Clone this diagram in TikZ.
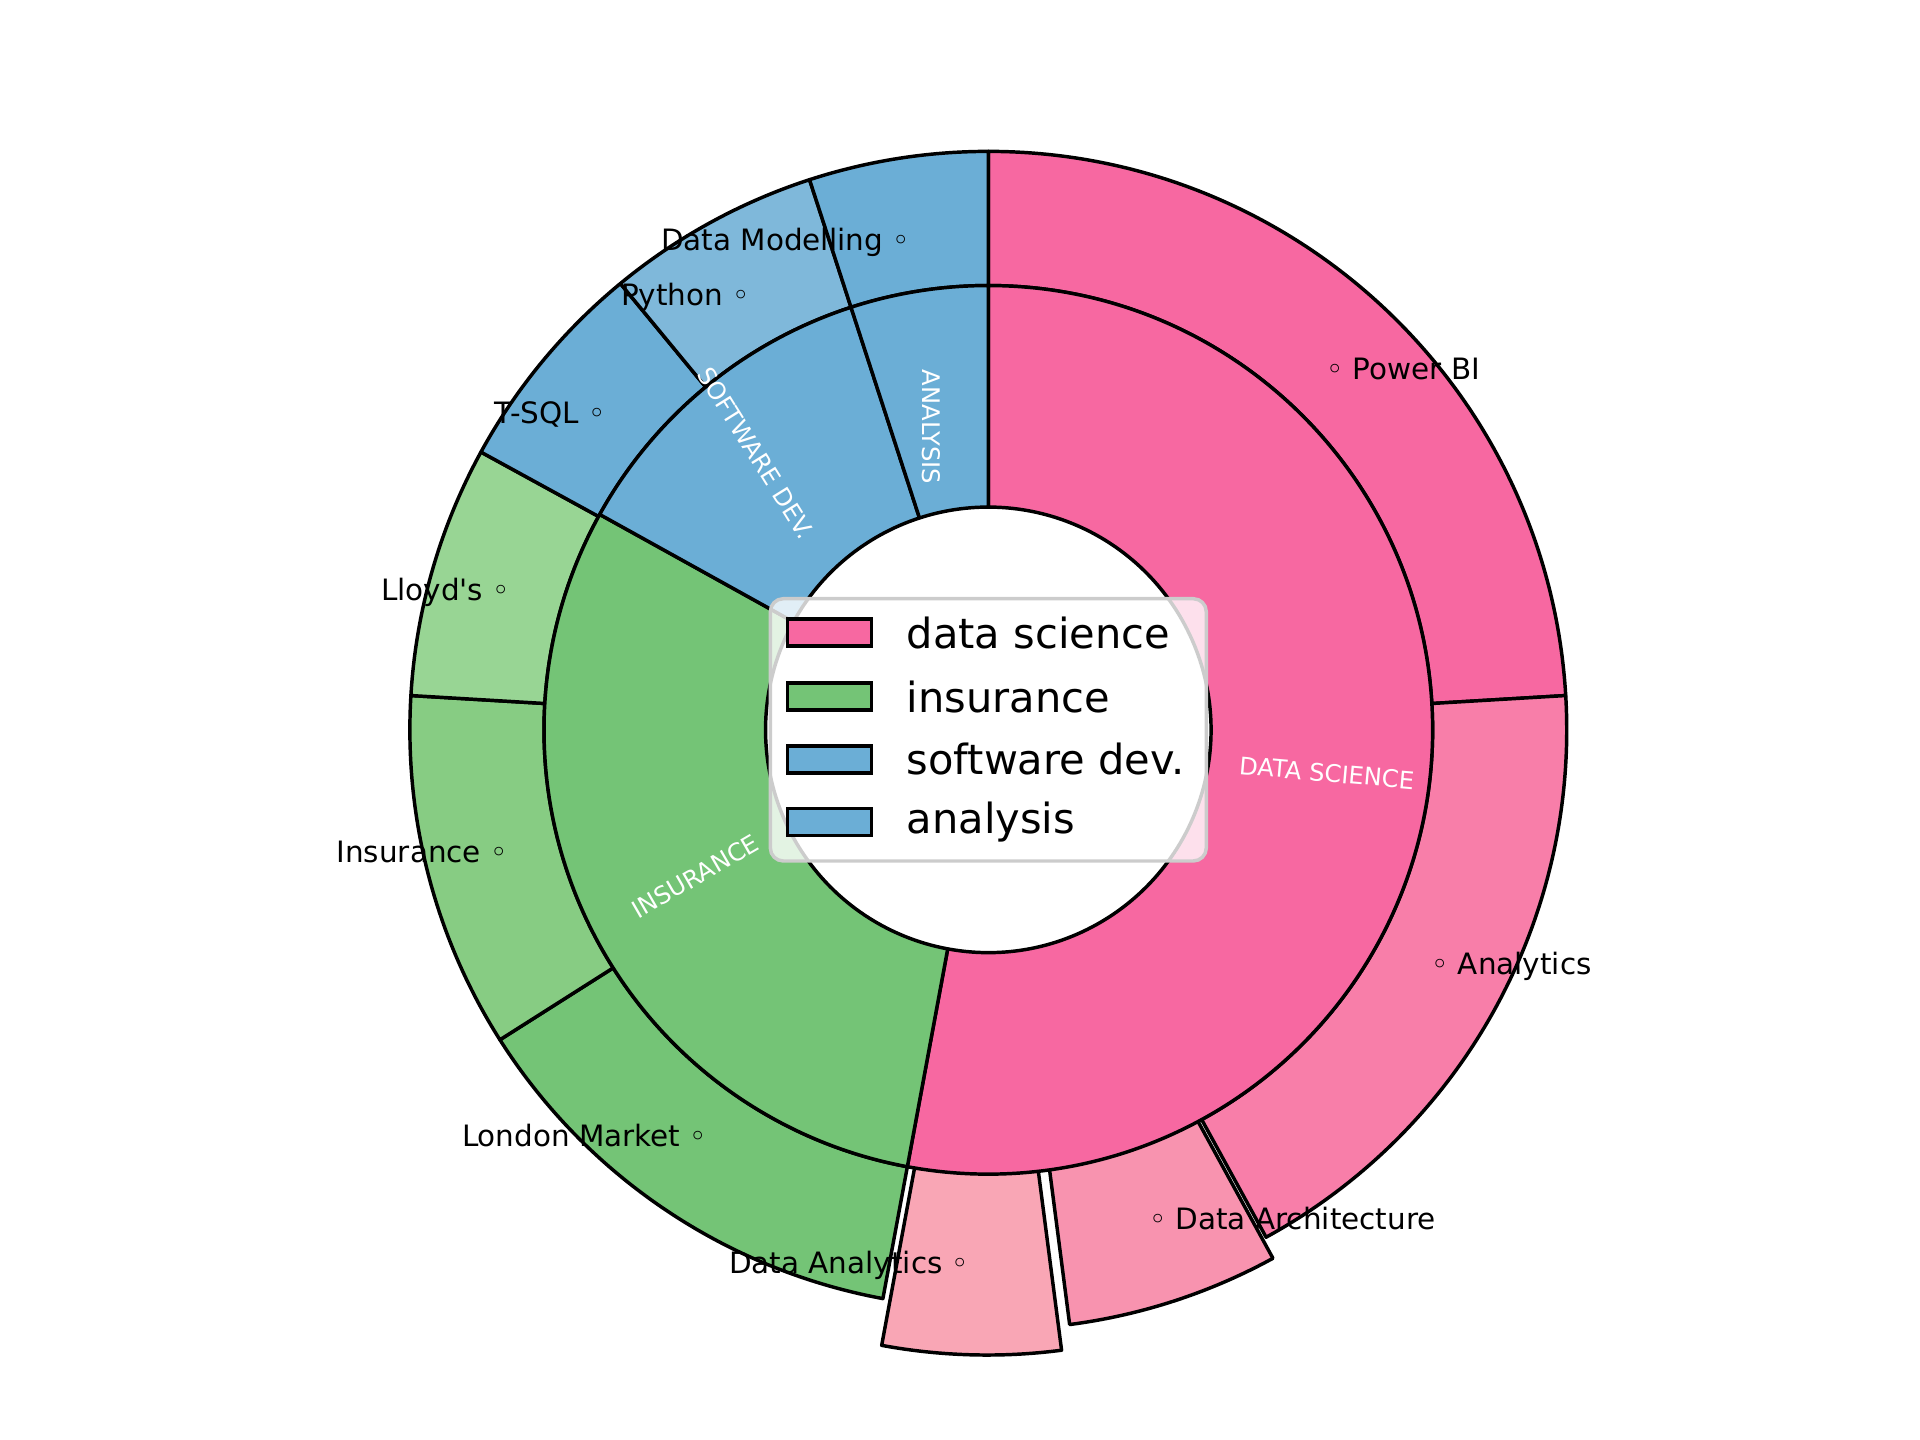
\documentclass[tikz,border=0pt]{standalone}
\usepackage{fontspec}
\setmainfont{DejaVu Sans}
\definecolor{dsA}{HTML}{F768A1}
\definecolor{dsB}{HTML}{F87EA9}
\definecolor{dsC}{HTML}{F893AF}
\definecolor{dsD}{HTML}{F9A6B5}
\definecolor{inA}{HTML}{74C476}
\definecolor{inB}{HTML}{87CC83}
\definecolor{inC}{HTML}{98D594}
\definecolor{swA}{HTML}{6BAED6}
\definecolor{swB}{HTML}{7FB8DA}
\begin{document}
\begin{tikzpicture}[x=0.01cm, y=0.01cm,
		wedge/.style={draw=black, line width=0.8pt, line join=round},
		outlabel/.style={font=\fontsize{6.8}{8}\selectfont, inner sep=0pt},
		inlabel/.style={font=\fontsize{5.6}{7}\selectfont, text=white, inner sep=0pt},
		legpatch/.style={draw=black, line width=0.8pt, minimum width=0.68cm, minimum height=0.22cm, inner sep=0pt},
		legtext/.style={font=\fontsize{9.6}{11}\selectfont, anchor=west, inner sep=0pt}
	]
	\useasboundingbox (0,0) rectangle (1560,-1170);

	\begin{scope}[shift={(803,-593)}]
	% outer ring
	\foreach \c/\a/\b/\dx/\dd/\ri in {dsA/90/3.4/0/0/361, dsB/3.4/-61.3/0/0/361, dsC/-61.3/-82.6/-72/18/330,
		dsD/-82.6/-100.5/-91.5/38/310, inA/-100.5/-147.6/0/0/361, inB/-147.6/-183.4/0/0/361,
		inC/-183.4/-208.7/0/0/361, swA/151.3/129.5/0/0/361, swB/129.5/108/0/0/361, swA/108/90/0/0/361}
		\filldraw[wedge, fill=\c, shift={(\dx:\dd)}] (\a:\ri) -- (\a:470)
			arc[start angle=\a, end angle=\b, radius=470] -- (\b:\ri)
			arc[start angle=\b, end angle=\a, radius=\ri] -- cycle;
	% inner ring
	\foreach \c/\a/\b in {dsA/90/-100.5, inA/-100.5/-209, swA/151/108, swA/108/90}
		\filldraw[wedge, fill=\c] (\a:181) -- (\a:361)
			arc[start angle=\a, end angle=\b, radius=361] -- (\b:181)
			arc[start angle=\b, end angle=\a, radius=181] -- cycle;
	\end{scope}

	% ring labels
	\node[inlabel, rotate=-5] (lds) at (1078,-628) {DATA SCIENCE};
	\node[inlabel, rotate=30] (lins) at (565,-712) {INSURANCE};
	\node[inlabel, rotate=-58] (lsw) at (614,-368) {SOFTWARE DEV.};
	\node[inlabel, rotate=-90] (lan) at (757,-347) {ANALYSIS};

	\node[outlabel] (pbi) at (1140,-300) {◦ Power BI};
	\node[outlabel] (ana) at (1228,-785) {◦ Analytics};
	\node[outlabel] (darch) at (1050,-990) {◦ Data Architecture};
	\node[outlabel] (dana) at (690,-1028) {Data Analytics ◦};
	\node[outlabel] (lmkt) at (475,-923) {London Market ◦};
	\node[outlabel] (insr) at (343,-692) {Insurance ◦};
	\node[outlabel] (lloyd) at (362,-481) {Lloyd\textquotesingle s ◦};
	\node[outlabel] (tsql) at (447,-337) {T-SQL ◦};
	\node[outlabel] (pyth) at (557,-242) {Python ◦};
	\node[outlabel] (dmod) at (638,-197) {Data Modelling ◦};

	% legend
	\node[draw=black!20, fill=white, fill opacity=0.8, rounded corners=3pt, line width=0.8pt,
		minimum width=3.54cm, minimum height=2.13cm, inner sep=0pt] (legend) at (803,-593) {};
	\foreach \c/\t/\y in {dsA/data science/514, inA/insurance/566, swA/software dev./617, swA/analysis/668} {
		\node[legpatch, fill=\c] (p\y) at (674,-\y) {};
		\node[legtext] (t\y) at (736,-\y) {\t};
	}
\end{tikzpicture}
\end{document}
